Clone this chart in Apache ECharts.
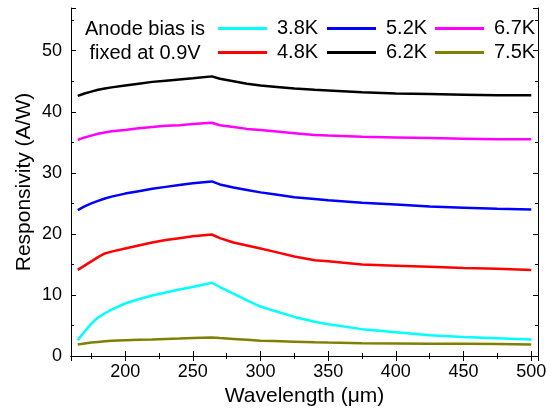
<!DOCTYPE html>
<html>
<head>
<meta charset="utf-8">
<script src="https://cdn.jsdelivr.net/npm/echarts@6/dist/echarts.min.js"></script>
<style>
html,body{margin:0;padding:0;background:#fff;}
#echarts{width:557px;height:412px;}
</style>
</head>
<body>
<div id="echarts"></div>
<script>
// wavelength (um)
var wavelength = [165, 170, 175, 180, 185, 190, 200, 210, 220, 230, 240, 250, 264, 270, 280, 290, 300, 310, 325, 340, 350, 375, 400, 425, 450, 475, 500];
var r38 = [2.6, 4.0, 5.3, 6.3, 7.0, 7.6, 8.6, 9.3, 9.9, 10.4, 10.9, 11.3, 12.0, 11.3, 10.2, 9.1, 8.1, 7.4, 6.4, 5.6, 5.2, 4.4, 3.9, 3.4, 3.1, 2.9, 2.7];
var r48 = [14.1, 14.8, 15.5, 16.2, 16.8, 17.1, 17.6, 18.1, 18.6, 19.0, 19.3, 19.6, 19.9, 19.3, 18.6, 18.1, 17.6, 17.1, 16.3, 15.7, 15.5, 15.0, 14.8, 14.6, 14.4, 14.3, 14.1];
var r52 = [23.9, 24.5, 25.0, 25.4, 25.8, 26.1, 26.6, 27.0, 27.4, 27.7, 28.0, 28.3, 28.6, 28.1, 27.6, 27.2, 26.8, 26.5, 26.0, 25.7, 25.5, 25.1, 24.8, 24.5, 24.3, 24.1, 24.0];
var r62 = [42.6, 43.0, 43.3, 43.6, 43.8, 44.0, 44.3, 44.6, 44.9, 45.1, 45.3, 45.5, 45.8, 45.4, 45.0, 44.6, 44.3, 44.1, 43.8, 43.6, 43.5, 43.2, 43.0, 42.9, 42.8, 42.7, 42.7];
var r67 = [35.4, 35.8, 36.1, 36.4, 36.6, 36.8, 37.0, 37.3, 37.5, 37.7, 37.8, 38.0, 38.2, 37.8, 37.5, 37.2, 37.0, 36.8, 36.5, 36.2, 36.1, 35.9, 35.8, 35.7, 35.6, 35.5, 35.5];
var r75 = [1.9, 2.05, 2.2, 2.3, 2.4, 2.5, 2.6, 2.65, 2.7, 2.8, 2.85, 2.95, 3.05, 2.95, 2.8, 2.65, 2.5, 2.45, 2.35, 2.25, 2.2, 2.1, 2.05, 2.0, 2.0, 1.95, 1.9];
var names = ['3.8K', '4.8K', '5.2K', '6.2K', '6.7K', '7.5K'];
var colors = ['#00ffff', '#ff0000', '#0000ff', '#000000', '#ff00ff', '#808000'];

baidu_echarts();

function pairs(ys){
	return wavelength.map(function(x, i){ return [x, ys[i]]; });
}

function baidu_echarts(){
	var dom = document.getElementById("echarts");
	var myChart = echarts.init(dom);
	var font = 'Liberation Sans, Arial, sans-serif';
	var allY = [r38, r48, r52, r62, r67, r75];
	var series = [];
	for (var i = 0; i < names.length; i++) {
		series.push({
			name: names[i],
			type: 'line',
			symbol: 'none',
			lineStyle: {color: colors[i], width: 2.5},
			itemStyle: {color: colors[i]},
			data: pairs(allY[i])
		});
	}
	function leg(left, data){
		return {
			orient: 'vertical',
			left: left,
			top: 18,
			padding: 0,
			icon: 'rect',
			itemWidth: 49,
			itemHeight: 3,
			itemGap: 3,
			data: data,
			textStyle: {fontFamily: font, fontSize: 20, lineHeight: 21, color: '#000', padding: [0, 0, 0, 5]}
		};
	}
	var axisLine = {show: true, lineStyle: {color: '#000', width: 1}};
	var tick = {show: true, inside: true, length: 5, lineStyle: {color: '#000'}};
	var minor = {show: true, splitNumber: 2, length: 3, lineStyle: {color: '#000'}};
	var option = {
		animation: false,
		backgroundColor: '#fff',
		grid: {left: 71, right: 19, top: 8, bottom: 56},
		legend: [
			leg(218, ['3.8K', '4.8K']),
			leg(327, ['5.2K', '6.2K']),
			leg(435, ['6.7K', '7.5K'])
		],
		graphic: [
			{type: 'text', x: 145, y: 19, style: {text: 'Anode bias is', font: '20px ' + font, fill: '#000', align: 'center'}},
			{type: 'text', x: 145, y: 43, style: {text: 'fixed at 0.9V', font: '20px ' + font, fill: '#000', align: 'center'}}
		],
		xAxis: [{
			type: 'value',
			min: 160,
			max: 505,
			splitNumber: 7,
			name: 'Wavelength (\u03bcm)',
			nameLocation: 'middle',
			nameGap: 28,
			nameTextStyle: {fontFamily: font, fontSize: 21, color: '#000'},
			axisLine: axisLine,
			axisTick: tick,
			minorTick: minor,
			splitLine: {show: false},
			axisLabel: {fontFamily: font, fontSize: 18, color: '#000', margin: 7, showMinLabel: false, showMaxLabel: false}
		}, {
			type: 'value',
			position: 'top',
			min: 160,
			max: 505,
			splitNumber: 7,
			axisLine: axisLine,
			axisTick: tick,
			minorTick: minor,
			splitLine: {show: false},
			axisLabel: {show: false}
		}],
		yAxis: [{
			type: 'value',
			min: 0,
			max: 57,
			interval: 10,
			name: 'Responsivity (A/W)',
			nameLocation: 'middle',
			nameGap: 36,
			nameMoveOverlap: false,
			nameTextStyle: {fontFamily: font, fontSize: 21, color: '#000'},
			axisLine: axisLine,
			axisTick: tick,
			minorTick: minor,
			splitLine: {show: false},
			axisLabel: {fontFamily: font, fontSize: 18, color: '#000', margin: 9, showMaxLabel: false}
		}, {
			type: 'value',
			position: 'right',
			min: 0,
			max: 57,
			interval: 10,
			axisLine: axisLine,
			axisTick: tick,
			minorTick: minor,
			splitLine: {show: false},
			axisLabel: {show: false}
		}],
		series: series
	};
	myChart.setOption(option, true);
}
</script>
</body>
</html>
